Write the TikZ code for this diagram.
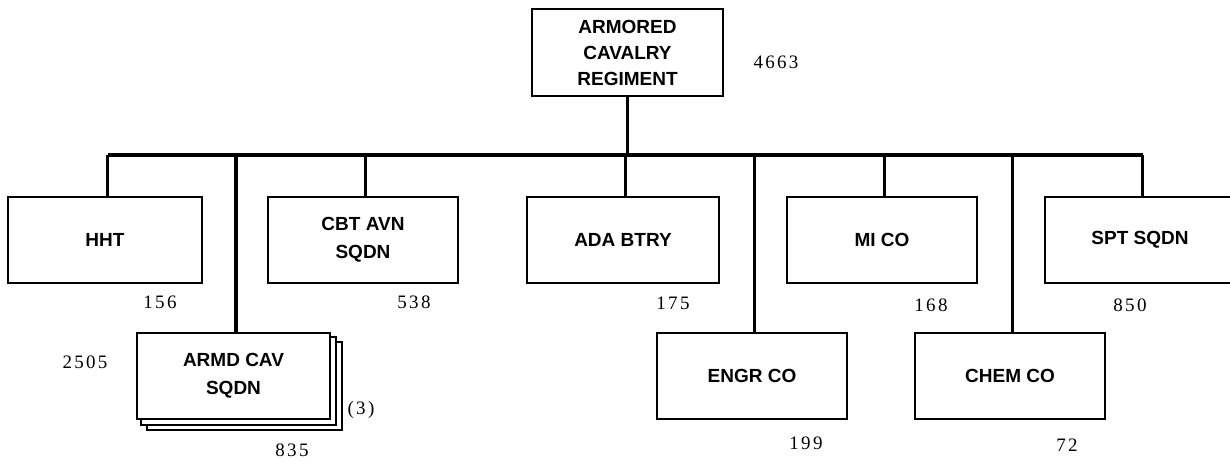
\documentclass[tikz,border=0pt]{standalone}
\usepackage{fontspec}
\newfontfamily\boxfont{Liberation Sans}
\newfontfamily\numfont[LetterSpace=12]{Liberation Serif}
\usetikzlibrary{backgrounds}
\begin{document}
\begin{tikzpicture}[x=1pt,y=-1pt,
  unit/.style={draw, line width=1.8pt, fill=white, minimum width=190pt, minimum height=86pt,
    inner sep=0pt, align=center, font=\boxfont\bfseries\fontsize{19}{28}\selectfont},
  num/.style={font=\numfont\fontsize{19}{22}\selectfont, inner sep=0pt},
  link/.style={line width=3.6pt},
  barline/.style={line width=3.2pt},
  stackbox/.style={draw, line width=1.8pt, fill=white}]
\useasboundingbox (0,0) rectangle (1230,463);
% top
\node[unit, minimum width=191pt, minimum height=87pt, font=\boxfont\bfseries\fontsize{19}{26}\selectfont]
  (acr) at (627.5,52.5) {ARMORED\\CAVALRY\\REGIMENT};
\node[num] (nacr) at (776,62) {4663};
% row 1
\node[unit, minimum width=194pt] (hht) at (105,240) {HHT};
\node[unit] (cbt) at (363,240) {CBT AVN\\SQDN};
\node[unit, minimum width=192pt] (ada) at (623,240) {ADA BTRY};
\node[unit] (mi) at (882,240) {MI CO};
\node[unit] (spt) at (1140,240) {SPT SQDN};
% row 2
\node[unit, minimum width=193pt] (armd) at (233.5,376) {ARMD CAV\\SQDN};
\node[unit] (engr) at (752,376) {ENGR CO};
\node[unit] (chem) at (1010,376) {CHEM CO};
% stacked copies behind ARMD CAV SQDN
\begin{scope}[on background layer]
  \draw[stackbox] ([shift={(11,10)}]armd.north west) rectangle ([shift={(11,10)}]armd.south east);
  \draw[stackbox] ([shift={(5,5)}]armd.north west) rectangle ([shift={(5,5)}]armd.south east);
\end{scope}
% bar and connectors
\coordinate (bar) at (628,155);
\draw[barline] ([xshift=2.5pt]hht.north |- bar) -- ([xshift=2.5pt]spt.north |- bar);
\draw[link] (acr.south) -- (acr.south |- bar);
\foreach \n in {hht,cbt,ada,mi,spt,armd,engr,chem}
  \draw[link] ([xshift=2.5pt]\n.north) -- ([xshift=2.5pt]\n.north |- bar);
% strengths
\node[num] (n156) at (160,302) {156};
\node[num] (n538) at (414,302) {538};
\node[num] (n175) at (673,303) {175};
\node[num] (n168) at (931,305) {168};
\node[num] (n850) at (1130,305) {850};
\node[num] (n2505) at (85,362) {2505};
\node[num] (n3) at (361,410) {(3)};
\node[num] (n835) at (292,450) {835};
\node[num] (n199) at (806,443) {199};
\node[num] (n72) at (1067,445) {72};
\end{tikzpicture}
\end{document}
